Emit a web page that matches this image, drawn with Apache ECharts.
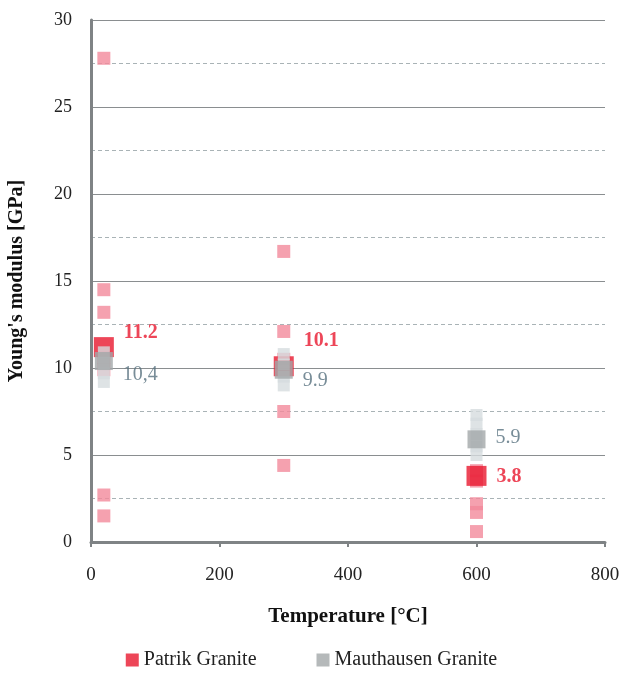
<!DOCTYPE html>
<html>
<head>
<meta charset="utf-8">
<script src="https://cdn.jsdelivr.net/npm/echarts@6/dist/echarts.min.js"></script>
<style>html,body{margin:0;padding:0;background:#fff}#c{width:623px;height:683px}</style>
</head>
<body>
<div id="c"></div>
<script>
// Data
var temperatures = [20, 300, 600];
var patrikSamples = [
  [20, 27.8], [20, 14.5], [20, 13.2], [20, 10.6], [20, 9.9], [20, 2.7], [20, 1.5],
  [300, 16.7], [300, 12.1], [300, 10.5], [300, 7.5], [300, 4.4],
  [600, 4.1], [600, 3.5], [600, 2.2], [600, 1.7], [600, 0.6]
];
var mauthausenSamples = [
  [20, 10.9], [20, 10.3], [20, 9.7], [20, 9.2],
  [300, 10.8], [300, 10.2], [300, 9.5], [300, 9.0],
  [600, 7.3], [600, 6.8], [600, 6.2], [600, 5.5], [600, 5.0]
];
var patrikMeans = [11.2, 10.1, 3.8];
var mauthausenMeans = [10.4, 9.9, 5.9];
var patrikLabels = ['11.2', '10.1', '3.8'];
var mauthausenLabels = ['10,4', '9.9', '5.9'];
var xTicks = [0, 200, 400, 600, 800];
var yTicks = [0, 5, 10, 15, 20, 25, 30];

var serif = '"Liberation Serif", "DejaVu Serif", serif';
var redOffsets = [[0, -14], [0, -25], [0, 1]];
var grayOffsets = [[0, 14], [0, 11], [0, -2]];

function meanData(vals, labels, offsets) {
  return vals.map(function (v, i) {
    return { value: [temperatures[i], v], label: { formatter: labels[i], offset: offsets[i] } };
  });
}

var chart = echarts.init(document.getElementById('c'));
chart.setOption({
  animation: false,
  textStyle: { fontFamily: serif },
  grid: { left: 91, right: 18, top: 20, bottom: 141, containLabel: false, outerBoundsMode: 'none' },
  legend: {
    data: ['Patrik Granite', 'Mauthausen Granite'],
    bottom: 8,
    left: 'center',
    itemWidth: 13, itemHeight: 13, itemGap: 60,
    icon: 'rect',
    textStyle: { fontFamily: serif, fontSize: 20, color: '#222' }
  },
  xAxis: {
    type: 'value', min: 0, max: 800, interval: 200,
    name: 'Temperature [°C]', nameLocation: 'middle', nameGap: 64,
    nameTextStyle: { fontFamily: serif, fontSize: 21, fontWeight: 'bold', color: '#111' },
    axisLine: { show: true, lineStyle: { color: '#7f8385', width: 3 } },
    axisTick: { show: true, length: 5, lineStyle: { color: '#7f8385', width: 2 } },
    axisLabel: { fontFamily: serif, fontSize: 19, color: '#222', margin: 24,
      formatter: function (v) { return xTicks.indexOf(v) >= 0 ? String(v) : ''; } },
    splitLine: { show: false }
  },
  yAxis: {
    type: 'value', min: 0, max: 30, interval: 5,
    name: "Young's modulus [GPa]", nameLocation: 'middle', nameGap: 64,
    nameTextStyle: { fontFamily: serif, fontSize: 20, fontWeight: 'bold', color: '#111' },
    axisLine: { show: true, lineStyle: { color: '#7f8385', width: 3 } },
    axisTick: { show: false },
    axisLabel: { fontFamily: serif, fontSize: 18, color: '#222', margin: 19,
      formatter: function (v) { return yTicks.indexOf(v) >= 0 ? String(v) : ''; } },
    splitLine: { show: true, lineStyle: { color: '#8a8e90', width: 1.2 } },
    minorTick: { show: false, splitNumber: 2 },
    minorSplitLine: { show: true, lineStyle: { color: '#a9b3b6', type: [4, 3], width: 1 } }
  },
  series: [
    {
      name: 'Patrik samples', type: 'scatter', symbol: 'rect', symbolSize: 13,
      itemStyle: { color: '#f38a9b' }, z: 2,
      data: patrikSamples
    },
    {
      name: 'Patrik Granite', type: 'scatter', symbol: 'rect', symbolSize: 20,
      itemStyle: { color: '#e8182e' }, z: 3,
      label: { show: true, position: 'right', distance: 10, color: '#e8182e',
        fontFamily: serif, fontSize: 20, fontWeight: 'bold' },
      data: meanData(patrikMeans, patrikLabels, redOffsets)
    },
    {
      name: 'Mauthausen samples', type: 'scatter', symbol: 'rect', symbolSize: 12,
      itemStyle: { color: '#d6dcdf' }, z: 4,
      data: mauthausenSamples
    },
    {
      name: 'Mauthausen Granite', type: 'scatter', symbol: 'rect', symbolSize: 18,
      itemStyle: { color: '#a3a7a9' }, z: 5,
      label: { show: true, position: 'right', distance: 10, color: '#56707e',
        fontFamily: serif, fontSize: 20 },
      data: meanData(mauthausenMeans, mauthausenLabels, grayOffsets)
    }
  ]
});
</script>
</body>
</html>
